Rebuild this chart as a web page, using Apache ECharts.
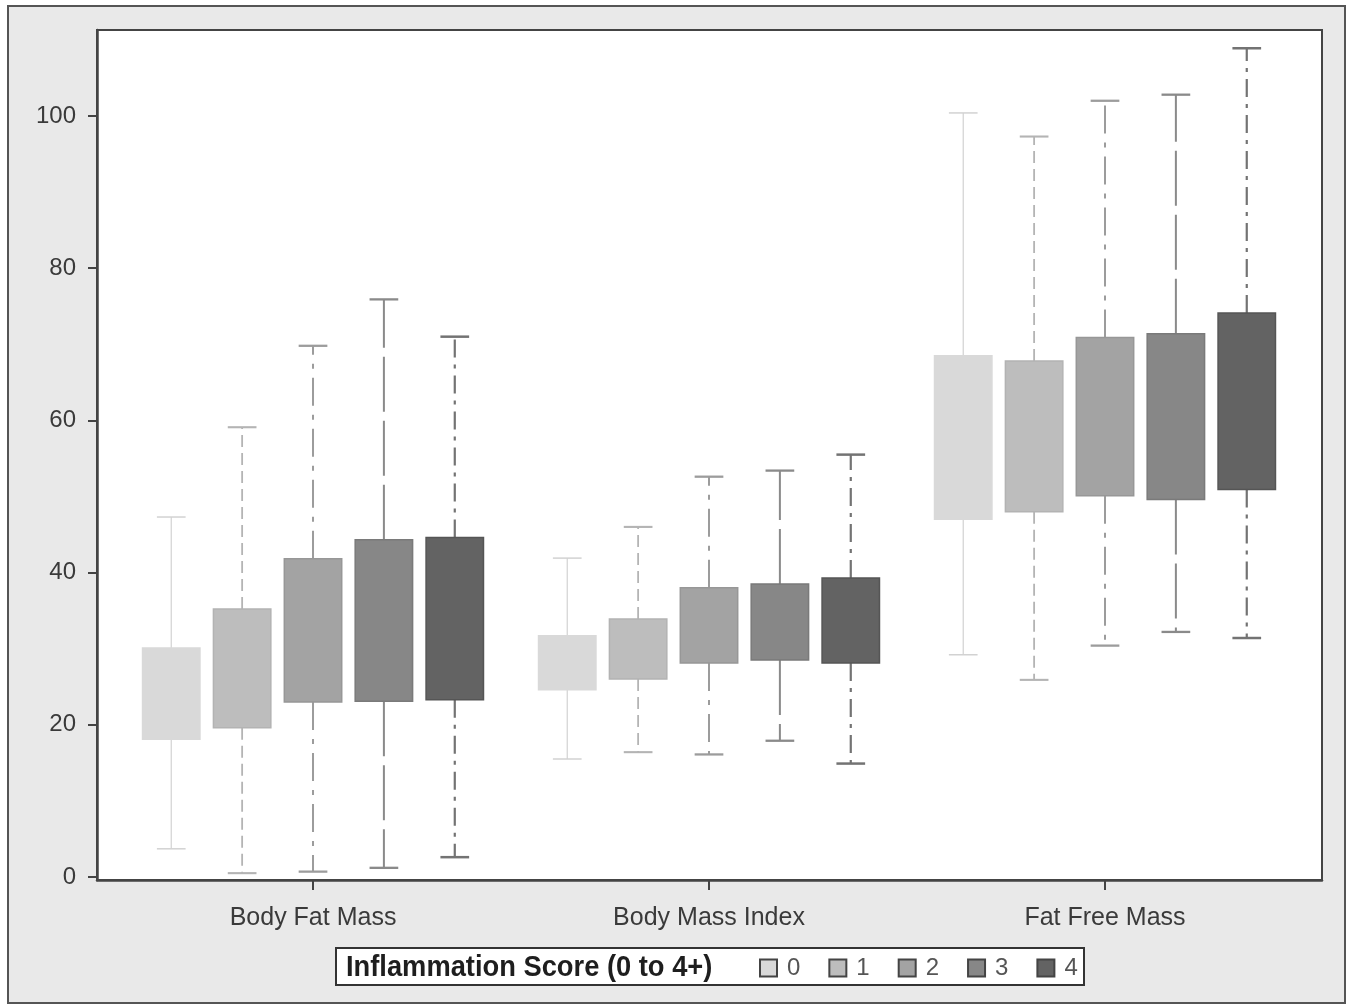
<!DOCTYPE html>
<html>
<head>
<meta charset="utf-8">
<script src="https://cdn.jsdelivr.net/npm/echarts@6/dist/echarts.min.js"></script>
<style>
html,body{margin:0;padding:0;background:#fff;}
#chart{width:1352px;height:1007px;}
</style>
</head>
<body>
<div id="chart"></div>
<script>
// ---- Data ----
const categories = ['Body Fat Mass', 'Body Mass Index', 'Fat Free Mass'];
const scoreNames = ['0', '1', '2', '3', '4'];
const yTicks = [0, 20, 40, 60, 80, 100];
// each entry: [lower whisker, Q1, Q3, upper whisker] per category
const score0 = [[3.7, 18.1, 30.1, 47.3], [15.5, 24.6, 31.7, 41.9], [29.2, 47.0, 68.5, 100.4]];
const score1 = [[0.5, 19.6, 35.2, 59.1], [16.4, 26.0, 33.9, 46.0], [25.9, 48.0, 67.8, 97.3]];
const score2 = [[0.7, 23.0, 41.8, 69.8], [16.1, 28.1, 38.0, 52.6], [30.4, 50.1, 70.9, 102.0]];
const score3 = [[1.2, 23.1, 44.3, 75.9], [17.9, 28.5, 38.5, 53.4], [32.2, 49.6, 71.4, 102.8]];
const score4 = [[2.6, 23.3, 44.6, 71.0], [14.9, 28.1, 39.3, 55.5], [31.4, 50.9, 74.1, 108.9]];
const allScores = [score0, score1, score2, score3, score4];

// ---- Styles ----
const boxFill = ['#d9d9d9', '#bdbdbd', '#a3a3a3', '#878787', '#636363'];
const boxEdge = ['#d9d9d9', '#b3b3b3', '#979797', '#7a7a7a', '#555555'];
const whiskerColor = ['#d2d2d2', '#b4b4b4', '#9c9c9c', '#8a8a8a', '#737373'];
const whiskerWidth = [1.2, 1.8, 2, 2, 2.2];
const whiskerDash = [null, [12, 6], [28, 9, 5, 9], [55, 9], [18, 7, 4, 7]];
const groupStep = 0.179;   // category units between boxes
const boxWidthU = 0.145;   // category units

const chart = echarts.init(document.getElementById('chart'));

function makeSeries(g) {
  return {
    type: 'custom',
    name: scoreNames[g],
    itemStyle: { color: boxFill[g], borderColor: '#444', borderWidth: 1.5 },
    data: allScores[g].map((d, i) => [i + 1, d[0], d[1], d[2], d[3]]),
    encode: { x: 0, y: [1, 2, 3, 4] },
    renderItem: function (params, api) {
      const xc = api.value(0) + (g - 2) * groupStep;
      const pMin = api.coord([xc, api.value(1)]);
      const pQ1 = api.coord([xc, api.value(2)]);
      const pQ3 = api.coord([xc, api.value(3)]);
      const pMax = api.coord([xc, api.value(4)]);
      const w = api.size([boxWidthU, 0])[0];
      const capW = w / 2;
      const x = pQ1[0];
      const ls = { stroke: whiskerColor[g], lineWidth: whiskerWidth[g], lineDash: whiskerDash[g] || null };
      const cs = { stroke: whiskerColor[g], lineWidth: whiskerWidth[g] + 0.3 };
      return {
        type: 'group',
        children: [
          { type: 'line', shape: { x1: x, y1: pQ3[1], x2: x, y2: pMax[1] }, style: ls },
          { type: 'line', shape: { x1: x, y1: pQ1[1], x2: x, y2: pMin[1] }, style: ls },
          { type: 'line', shape: { x1: x - capW / 2, y1: pMax[1], x2: x + capW / 2, y2: pMax[1] }, style: cs },
          { type: 'line', shape: { x1: x - capW / 2, y1: pMin[1], x2: x + capW / 2, y2: pMin[1] }, style: cs },
          { type: 'rect', shape: { x: x - w / 2, y: pQ3[1], width: w, height: pQ1[1] - pQ3[1] },
            style: { fill: boxFill[g], stroke: boxEdge[g], lineWidth: 1.5 } }
        ]
      };
    }
  };
}

const option = {
  animation: false,
  backgroundColor: '#ffffff',
  graphic: [
    { type: 'rect', z: -10, silent: true,
      shape: { x: 8, y: 6, width: 1337, height: 997 },
      style: { fill: '#e9e9e9', stroke: '#555', lineWidth: 2 } },
    { type: 'rect', z: 5, silent: true,
      shape: { x: 336, y: 948, width: 748, height: 37 },
      style: { fill: '#ffffff', stroke: '#333', lineWidth: 2 } },
    { type: 'text', z: 6, silent: true, x: 346, y: 953, scaleX: 0.91,
      style: { text: 'Inflammation Score (0 to 4+)', fill: '#1e1e1e',
        font: 'bold 30px "Liberation Sans", Arial, sans-serif' } }
  ],
  grid: { left: 97, top: 30, width: 1225, height: 850, show: true,
    backgroundColor: '#ffffff', borderColor: '#444', borderWidth: 2 },
  xAxis: {
    type: 'value', min: 0.4545, max: 3.548,
    axisLine: { show: true, onZero: false, lineStyle: { color: '#444', width: 2.5 } },
    axisTick: { show: true, customValues: [1, 2, 3], length: 10, lineStyle: { color: '#444', width: 2 } },
    axisLabel: { customValues: [1, 2, 3], margin: 26, color: '#3a3a3a', fontSize: 25,
      fontFamily: '"Liberation Sans", Arial, sans-serif',
      formatter: v => categories[Math.round(v) - 1] || '' },
    splitLine: { show: false }
  },
  yAxis: {
    type: 'value', min: -0.4, max: 111.3,
    axisLine: { show: true, onZero: false, lineStyle: { color: '#444', width: 2.5 } },
    axisTick: { show: true, customValues: yTicks, length: 9, lineStyle: { color: '#444', width: 2 } },
    axisLabel: { customValues: yTicks, margin: 21, color: '#3a3a3a', fontSize: 24,
      fontFamily: '"Liberation Sans", Arial, sans-serif' },
    splitLine: { show: false }
  },
  legend: {
    data: scoreNames.map((n, i) => ({ name: n, itemStyle: { color: boxFill[i], borderColor: '#444', borderWidth: 2 } })),
    left: 754, top: 951, z: 7,
    icon: 'rect', itemWidth: 17, itemHeight: 17, itemGap: 28,
    selectedMode: false,
    textStyle: { color: '#555', fontSize: 24, padding: [0, 0, 0, 5],
      fontFamily: '"Liberation Sans", Arial, sans-serif' }
  },
  series: [0, 1, 2, 3, 4].map(makeSeries)
};
chart.setOption(option);
</script>
</body>
</html>
